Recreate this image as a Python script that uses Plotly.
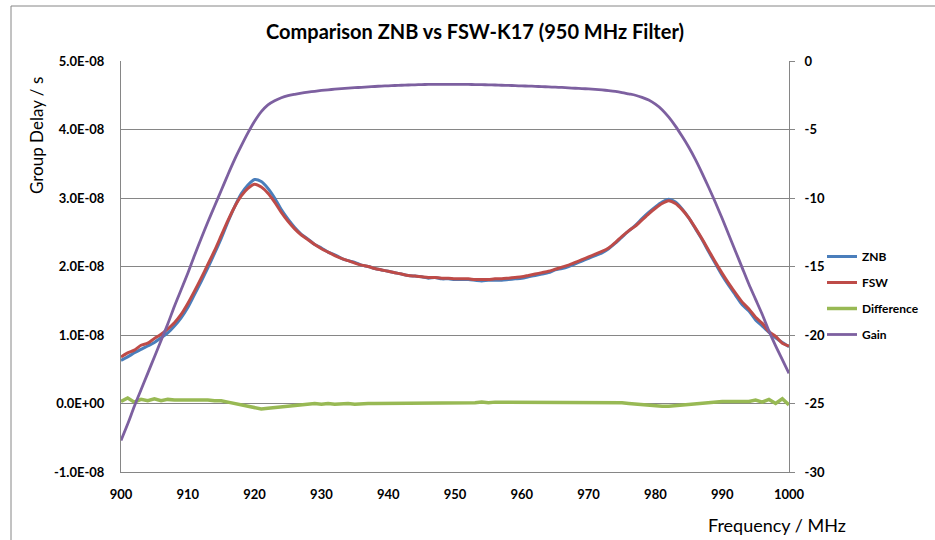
import plotly.graph_objects as go

# ---------------- data ----------------
freq_mhz = list(range(900, 1001))  # 1 MHz steps

# Group delay in ns (plotted in seconds)
fsw_ns = [6.8, 7.4, 7.8, 8.5, 8.8, 9.5, 10.1, 10.9, 11.8, 13.0,
          14.6, 16.4, 18.3, 20.3, 22.3, 24.5, 26.7, 28.7, 30.3, 31.4,
          32.0, 31.6, 30.7, 29.4, 27.9, 26.6, 25.5, 24.6, 23.9, 23.2,
          22.6, 22.1, 21.6, 21.2, 20.85, 20.5, 20.2, 20.0, 19.7, 19.5,
          19.3, 19.1, 18.9, 18.7, 18.6, 18.5, 18.4, 18.4, 18.3, 18.3,
          18.2, 18.2, 18.2, 18.1, 18.1, 18.1, 18.2, 18.2, 18.3, 18.4,
          18.5, 18.7, 18.9, 19.1, 19.3, 19.6, 19.9, 20.2, 20.6, 21.0,
          21.4, 21.8, 22.2, 22.7, 23.5, 24.4, 25.2, 25.9, 26.8, 27.7,
          28.5, 29.2, 29.6, 29.2, 28.3, 27.1, 25.6, 24.0, 22.3, 20.6,
          19.0, 17.5, 16.1, 14.8, 13.8, 12.6, 11.7, 10.5, 9.8, 8.8,
          8.4]

znb_ns = [6.3, 6.8, 7.4, 7.9, 8.4, 8.9, 9.6, 10.3, 11.3, 12.5,
          14.0, 15.9, 17.8, 19.8, 21.9, 24.1, 26.5, 28.7, 30.6, 31.9,
          32.7, 32.4, 31.4, 30.0, 28.3, 26.9, 25.7, 24.7, 24.0, 23.2,
          22.7, 22.1, 21.7, 21.2, 20.85, 20.6, 20.2, 20.0, 19.7, 19.5,
          19.3, 19.1, 18.9, 18.7, 18.6, 18.5, 18.3, 18.4, 18.2, 18.2,
          18.1, 18.1, 18.1, 18.0, 17.9, 18.0, 18.0, 18.0, 18.1, 18.2,
          18.3, 18.5, 18.7, 18.9, 19.1, 19.5, 19.7, 20.0, 20.4, 20.8,
          21.2, 21.6, 22.0, 22.6, 23.4, 24.3, 25.2, 26.0, 27.0, 27.9,
          28.7, 29.4, 29.8, 29.4, 28.4, 27.1, 25.5, 23.9, 22.1, 20.4,
          18.7, 17.2, 15.8, 14.4, 13.5, 12.2, 11.3, 10.4, 9.6, 8.9,
          8.3]

diff_ns = [0.3, 0.8, 0.2, 0.6, 0.4, 0.7, 0.4, 0.6, 0.5, 0.5,
           0.6, 0.5, 0.5, 0.5, 0.4, 0.4, 0.2, 0.0, -0.3, -0.5,
           -0.7, -0.8, -0.7, -0.6, -0.4, -0.3, -0.2, -0.1, -0.1, 0.0,
           -0.1, 0.0, -0.1, 0.0, 0.0, -0.1, 0.0, 0.0, 0.0, 0.0,
           0.0, 0.0, 0.0, 0.0, 0.0, 0.0, 0.1, 0.0, 0.1, 0.1,
           0.1, 0.1, 0.1, 0.1, 0.2, 0.1, 0.2, 0.2, 0.2, 0.2,
           0.2, 0.2, 0.2, 0.2, 0.2, 0.1, 0.2, 0.2, 0.2, 0.2,
           0.2, 0.2, 0.2, 0.1, 0.1, 0.1, 0.0, -0.1, -0.2, -0.3,
           -0.3, -0.4, -0.4, -0.3, -0.2, -0.1, 0.0, 0.1, 0.2, 0.2,
           0.3, 0.3, 0.3, 0.4, 0.3, 0.5, 0.2, 0.6, 0.0, 0.7,
           -0.2]

# Gain in dB (right axis)
gain_db = [-27.7, -26.5, -25.2, -24.0, -22.8, -21.6, -20.4, -19.2, -17.9, -16.7,
           -15.5, -14.2, -12.95, -11.75, -10.6, -9.45, -8.3, -7.2, -6.2, -5.25,
           -4.4, -3.7, -3.2, -2.9, -2.68, -2.53, -2.43, -2.34, -2.27, -2.21,
           -2.15, -2.1, -2.06, -2.02, -1.98, -1.95, -1.92, -1.89, -1.86, -1.83,
           -1.81, -1.79, -1.77, -1.75, -1.74, -1.72, -1.71, -1.70, -1.70, -1.70,
           -1.70, -1.70, -1.71, -1.72, -1.73, -1.74, -1.75, -1.77, -1.78, -1.80,
           -1.82, -1.83, -1.85, -1.87, -1.89, -1.91, -1.93, -1.96, -1.99, -2.01,
           -2.04, -2.07, -2.11, -2.16, -2.22, -2.30, -2.40, -2.50, -2.65, -2.85,
           -3.15, -3.55, -4.1, -4.75, -5.5, -6.3, -7.2, -8.2, -9.25, -10.35,
           -11.5, -12.7, -13.9, -15.1, -16.3, -17.4, -18.5, -19.7, -20.8, -21.8,
           -22.8]

x_ticks = [900, 910, 920, 930, 940, 950, 960, 970, 980, 990, 1000]
left_tick_vals = [-1e-8, 0, 1e-8, 2e-8, 3e-8, 4e-8, 5e-8]
left_tick_text = ["-1.0E-08", "0.0E+00", "1.0E-08", "2.0E-08", "3.0E-08", "4.0E-08", "5.0E-08"]
right_tick_vals = [-30, -25, -20, -15, -10, -5, 0]
right_tick_text = ["-30", "-25", "-20", "-15", "-10", "-5", "0"]

# ---------------- figure ----------------
W, H = 935, 540
L, R, T, B = 121, 146, 61, 68
PW, PH = W - L - R, H - T - B

def s(v):
    return [a * 1e-9 for a in v]

FONT = "Lato"
GRID = "#868686"

fig = go.Figure()
fig.add_trace(go.Scatter(x=freq_mhz, y=s(znb_ns), name="ZNB", mode="lines",
                         line=dict(color="#4A7EBB", width=3, shape="spline", smoothing=0.7),
                         legendgroup="a"))
fig.add_trace(go.Scatter(x=freq_mhz, y=s(fsw_ns), name="FSW", mode="lines",
                         line=dict(color="#BE4B48", width=3, shape="spline", smoothing=0.7),
                         legendgroup="b"))
fig.add_trace(go.Scatter(x=freq_mhz, y=s(diff_ns), name="Difference", mode="lines",
                         line=dict(color="#98B954", width=3.5), legendgroup="c"))
fig.add_trace(go.Scatter(x=freq_mhz, y=gain_db, name="Gain", mode="lines",
                         line=dict(color="#7D60A0", width=2.8, shape="spline", smoothing=0.7),
                         legendgroup="d", yaxis="y2"))

fig.update_layout(
    width=W, height=H,
    margin=dict(l=L, r=R, t=T, b=B, autoexpand=False),
    paper_bgcolor="white", plot_bgcolor="white",
    font=dict(family=FONT, color="black", size=12),
    title=dict(text="Comparison ZNB vs FSW-K17 (950 MHz Filter)",
               font=dict(family=FONT, size=20, weight="bold", color="black"),
               x=475 / W, xanchor="center", y=1 - 32 / H, yanchor="middle"),
    xaxis=dict(range=[900, 1000], tickvals=x_ticks, showgrid=False, zeroline=False,
               showline=True, linecolor=GRID, linewidth=1, ticks="",
               ticklabelstandoff=10,
               tickfont=dict(family=FONT, size=13, weight="bold")),
    yaxis=dict(range=[-1e-8, 5e-8], tickvals=left_tick_vals, ticktext=left_tick_text,
               showgrid=True, gridcolor=GRID, gridwidth=1, zeroline=False,
               showline=True, linecolor=GRID, linewidth=1, ticks="",
               ticklabelstandoff=13,
               tickfont=dict(family=FONT, size=13, weight="bold")),
    yaxis2=dict(range=[-30, 0], tickvals=right_tick_vals, ticktext=right_tick_text,
                overlaying="y", side="right", showgrid=False, zeroline=False,
                showline=True, linecolor=GRID, linewidth=1,
                ticks="outside", ticklen=5, tickcolor=GRID,
                ticklabelstandoff=7,
                tickfont=dict(family=FONT, size=13, weight="bold")),
    legend=dict(xref="container", yref="container", x=822 / W, y=1 - 242 / H,
                xanchor="left", yanchor="top", traceorder="grouped",
                tracegroupgap=7, bgcolor="rgba(0,0,0,0)",
                font=dict(family=FONT, size=12, weight="bold")),
    showlegend=True,
)

# axis titles as annotations (Excel-style placement)
fig.add_annotation(text="Group Delay / s", xref="paper", yref="paper",
                   x=(36 - L) / PW, y=(H - B - 136) / PH, showarrow=False,
                   textangle=-90, xanchor="center", yanchor="middle",
                   font=dict(family=FONT, size=17, color="black"))
fig.add_annotation(text="Frequency / MHz", xref="paper", yref="paper",
                   x=(777 - L) / PW, y=(H - B - 525) / PH, showarrow=False,
                   xanchor="center", yanchor="middle",
                   font=dict(family=FONT, size=18, color="black"))

# chart outer border (Excel chart area frame)
fig.add_shape(type="rect", xref="paper", yref="paper",
              x0=(11 - L) / PW, x1=(W + 20 - L) / PW,
              y0=(H - B - (H + 20)) / PH, y1=(H - B - 6) / PH,
              line=dict(color="#868686", width=1), fillcolor="rgba(0,0,0,0)",
              layer="below")

fig.write_html("out.html")
